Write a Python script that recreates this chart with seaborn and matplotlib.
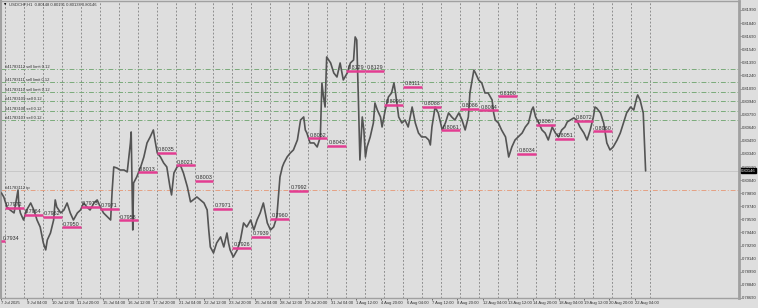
import numpy as np
import matplotlib
matplotlib.use('Agg')
import matplotlib.pyplot as plt
import matplotlib.transforms as mtransforms
import seaborn as sns
import pandas as pd

# hourly bars, bar 0 = 7 Jul 2025 20:00
bars = [0, 3, 7, 11, 16, 21, 22, 24, 28, 32, 37, 41, 45, 49, 53, 56, 58, 62, 66, 68,
        70, 75, 79, 83, 87, 91, 96, 100, 104, 108, 112, 117, 121, 125, 129, 134, 138, 140, 142, 146,
        150, 155, 159, 163, 164, 166, 167, 171, 176, 180, 184, 188, 192, 194, 197, 201, 205, 209, 213, 215,
        218, 222, 226, 230, 235, 239, 247, 256, 260, 262, 264, 268, 272, 277, 281, 285, 287, 289, 293, 298,
        302, 306, 310, 315, 319, 323, 327, 331, 336, 340, 344, 348, 350, 352, 355, 357, 361, 365, 369, 374,
        378, 382, 384, 386, 390, 395, 399, 403, 405, 407, 409, 411, 416, 420, 424, 428, 432, 437, 441, 445,
        447, 449, 451, 453, 456, 458, 460, 462, 466, 470, 472, 475, 479, 481, 485, 489, 493, 496, 498, 502,
        506, 510, 514, 519, 523, 527, 531, 536, 540, 542, 544, 548, 552, 557, 561, 565, 569, 573, 578, 582,
        586, 590, 592, 597, 599, 603, 607, 611, 615, 620, 622, 624, 628, 632, 637, 641, 645, 649, 653, 658,
        662, 666, 670, 672, 675, 679, 683, 687, 691, 696, 700, 704, 708, 712, 715, 719, 723, 727, 731, 736,
        740, 744, 748, 750, 752, 757, 761, 765, 769, 773, 778, 782, 786, 790, 795, 799, 803, 804, 807, 811,
        814]
prices = [0.79893, 0.79847, 0.79732, 0.79698, 0.79664, 0.79927, 0.79755, 0.79664, 0.79583, 0.79698,
          0.79778, 0.79698, 0.79583, 0.79503, 0.79320, 0.79240, 0.79354, 0.79434, 0.79583, 0.79813,
          0.79732, 0.79664, 0.79698, 0.79778, 0.79664, 0.79583, 0.79664, 0.79698, 0.79778, 0.79732,
          0.79698, 0.79778, 0.79813, 0.79732, 0.79664, 0.79618, 0.79583, 0.79927, 0.80191, 0.80179,
          0.80156, 0.80156, 0.80134, 0.80466, 0.80592, 0.79469, 0.80007, 0.80076, 0.80191, 0.80305,
          0.80466, 0.80535, 0.80615, 0.80500, 0.80351, 0.80305, 0.80237, 0.80191, 0.79962, 0.79870,
          0.80122, 0.80191, 0.80214, 0.80122, 0.79962, 0.79790, 0.79847, 0.79778, 0.79698, 0.79469,
          0.79274, 0.79205, 0.79320, 0.79389, 0.79274, 0.79434, 0.79320, 0.79240, 0.79159, 0.79240,
          0.79354, 0.79549, 0.79503, 0.79583, 0.79469, 0.79583, 0.79664, 0.79778, 0.79549, 0.79469,
          0.79503, 0.79618, 0.79847, 0.80076, 0.80191, 0.80237, 0.80305, 0.80351, 0.80386, 0.80500,
          0.80729, 0.80764, 0.80615, 0.80580, 0.80466, 0.80466, 0.80420, 0.80535, 0.81153, 0.80993,
          0.80878, 0.81451, 0.81383, 0.81268, 0.81222, 0.81383, 0.81188, 0.81268, 0.81383, 0.81417,
          0.81681, 0.81646, 0.80993, 0.80271, 0.80764, 0.80615, 0.80305, 0.80420, 0.80535, 0.80695,
          0.80924, 0.80844, 0.80764, 0.80649, 0.80844, 0.80993, 0.81039, 0.81153, 0.81039, 0.80764,
          0.80695, 0.80729, 0.80649, 0.80878, 0.80695, 0.80580, 0.80535, 0.80535, 0.80500, 0.80443,
          0.80649, 0.80878, 0.80810, 0.80615, 0.80695, 0.80810, 0.80764, 0.80729, 0.80810, 0.80729,
          0.80615, 0.80764, 0.81039, 0.81302, 0.81268, 0.81188, 0.81153, 0.81039, 0.81039, 0.80959,
          0.80810, 0.80729, 0.80695, 0.80615, 0.80535, 0.80305, 0.80420, 0.80500, 0.80535, 0.80580,
          0.80649, 0.80695, 0.80844, 0.80878, 0.80764, 0.80695, 0.80615, 0.80580, 0.80500, 0.80649,
          0.80580, 0.80535, 0.80615, 0.80649, 0.80707, 0.80729, 0.80752, 0.80729, 0.80649, 0.80580,
          0.80500, 0.80615, 0.80764, 0.80878, 0.80867, 0.80810, 0.80695, 0.80466, 0.80386, 0.80420,
          0.80500, 0.80580, 0.80695, 0.80810, 0.80878, 0.80844, 0.80993, 0.81016, 0.80959, 0.80810,
          0.80146]

# daily level markers (one per trading day, day 0 = 7 Jul)
level_values = [0.7934, 0.7972, 0.7964, 0.7962, 0.7950, 0.7973, 0.7971, 0.7958, 0.8013, 0.8035,
                0.8021, 0.8003, 0.7971, 0.7926, 0.7939, 0.7960, 0.7992, 0.8052, 0.8043, 0.8129,
                0.8129, 0.8090, 0.8111, 0.8088, 0.8061, 0.8086, 0.8084, 0.8100, 0.8034, 0.8067,
                0.8051, 0.8072, 0.8060]

# order lines
order_labels = ['#41783112 sell limit 0.12', '#41783111 sell limit 0.12', '#41783110 sell limit 0.12',
                '#41783109 sell 0.12', '#41783108 sell 0.12', '#41783107 sell 0.12']
order_prices = [0.81310, 0.81165, 0.81047, 0.80944, 0.80829, 0.80726]
tp_label = '#41783112 tp'
tp_price = 0.79927
bid = 0.80146
title = 'USDCHF,H1  0.80148 0.80151 0.80138 0.80146'

date_labels = ['7 Jul 2025', '9 Jul 04:00', '10 Jul 12:00', '11 Jul 20:00', '15 Jul 04:00',
               '16 Jul 12:00', '17 Jul 20:00', '21 Jul 04:00', '22 Jul 12:00', '23 Jul 20:00',
               '25 Jul 04:00', '28 Jul 12:00', '29 Jul 20:00', '31 Jul 04:00', '1 Aug 12:00',
               '4 Aug 20:00', '6 Aug 04:00', '7 Aug 12:00', '8 Aug 20:00', '12 Aug 04:00',
               '13 Aug 12:00', '14 Aug 20:00', '18 Aug 04:00', '19 Aug 12:00', '20 Aug 20:00',
               '22 Aug 04:00']


def main():
    sns.set_theme(style='white')
    plt.rcParams['font.family'] = ['Liberation Sans Narrow', 'Liberation Sans', 'DejaVu Sans']
    bg = '#dedede'
    txt = '#303030'
    fs_axis = 3.0
    fs_small = 3.0
    fs_level = 3.9

    fig = plt.figure(figsize=(7.58, 3.08), dpi=100, facecolor=bg)
    ax = fig.add_axes([1/758, 10/308, 738/758, 297/308], facecolor=bg)

    df = pd.DataFrame({'bar': bars, 'price': prices})

    # day grid (each trading day starts 4 bars after first bar)
    for k in range(35):
        ax.axvline(4 + 24*k, color='#808080', lw=0.6, ls=(0, (2.2, 2.2)), zorder=1)

    # order / tp / bid lines
    for lab, p in zip(order_labels, order_prices):
        ax.axhline(p, color='#7aab7a', lw=0.7, ls=(0, (5, 2, 1, 2)), zorder=2)
        ax.text(5, p + 0.00004, lab, fontsize=fs_small, color=txt, ha='left', va='bottom', zorder=5)
    ax.axhline(tp_price, color='#e5a183', lw=0.7, ls=(0, (5, 2, 1, 2)), zorder=2)
    ax.text(5, tp_price + 0.00004, tp_label, fontsize=fs_small, color=txt, ha='left', va='bottom', zorder=5)
    ax.axhline(bid, color='#c4c4c4', lw=0.6, zorder=2)

    # price
    sns.lineplot(data=df, x='bar', y='price', ax=ax, color='#545454', lw=1.2,
                 estimator=None, sort=False, zorder=3)

    # daily level markers
    for k, v in enumerate(level_values):
        x0 = max(0, 24*k - 20)
        x1 = 24*k + 4
        ax.hlines(v, x0, x1, color='#e33d92', lw=1.8, zorder=4)
        ax.text(x0 + 2, v + 0.00008, '%.4f' % v, fontsize=fs_level, color=txt,
                ha='left', va='bottom', zorder=5)

    ax.set_xlim(-0.5, 932)
    ax.set_ylim(0.78689, 0.82093)

    ax.yaxis.tick_right()
    yt = np.arange(0.78690, 0.82000, 0.0015)
    ax.set_yticks(yt)
    ax.set_yticklabels(['%.5f' % v for v in yt])
    ax.set_xticks(np.arange(len(date_labels)) * 32)
    ax.set_xticklabels(date_labels, ha='left')
    ax.tick_params(axis='both', labelsize=fs_axis, colors=txt, length=1.5, width=0.5, pad=0.8)
    ax.tick_params(axis='y', right=True, left=False)
    ax.tick_params(axis='x', bottom=True)
    ax.set_xlabel('')
    ax.set_ylabel('')

    for side in ['left', 'right', 'top', 'bottom']:
        ax.spines[side].set_color('#a0a0a0')
    ax.spines['right'].set_linewidth(2)
    ax.spines['left'].set_linewidth(1.5)
    ax.spines['top'].set_linewidth(1)
    ax.spines['bottom'].set_linewidth(1)

    # title and bid box
    ax.text(3, 0.82093 - 0.00045, '\u25bc', fontsize=2.2, color='black', ha='left', va='center',
            family='DejaVu Sans')
    ax.text(9, 0.82093 - 0.00045, title, fontsize=fs_axis, color=txt, ha='left', va='center')
    trans = mtransforms.blended_transform_factory(ax.transAxes, ax.transData)
    ax.text(1.003, bid, '%.5f' % bid, transform=trans, fontsize=fs_axis, color='white',
            ha='left', va='center', zorder=6,
            bbox=dict(boxstyle='square,pad=0.1', fc='black', ec='black'))

    fig.savefig('out.png', dpi=100, facecolor=bg)


if __name__ == '__main__':
    main()
